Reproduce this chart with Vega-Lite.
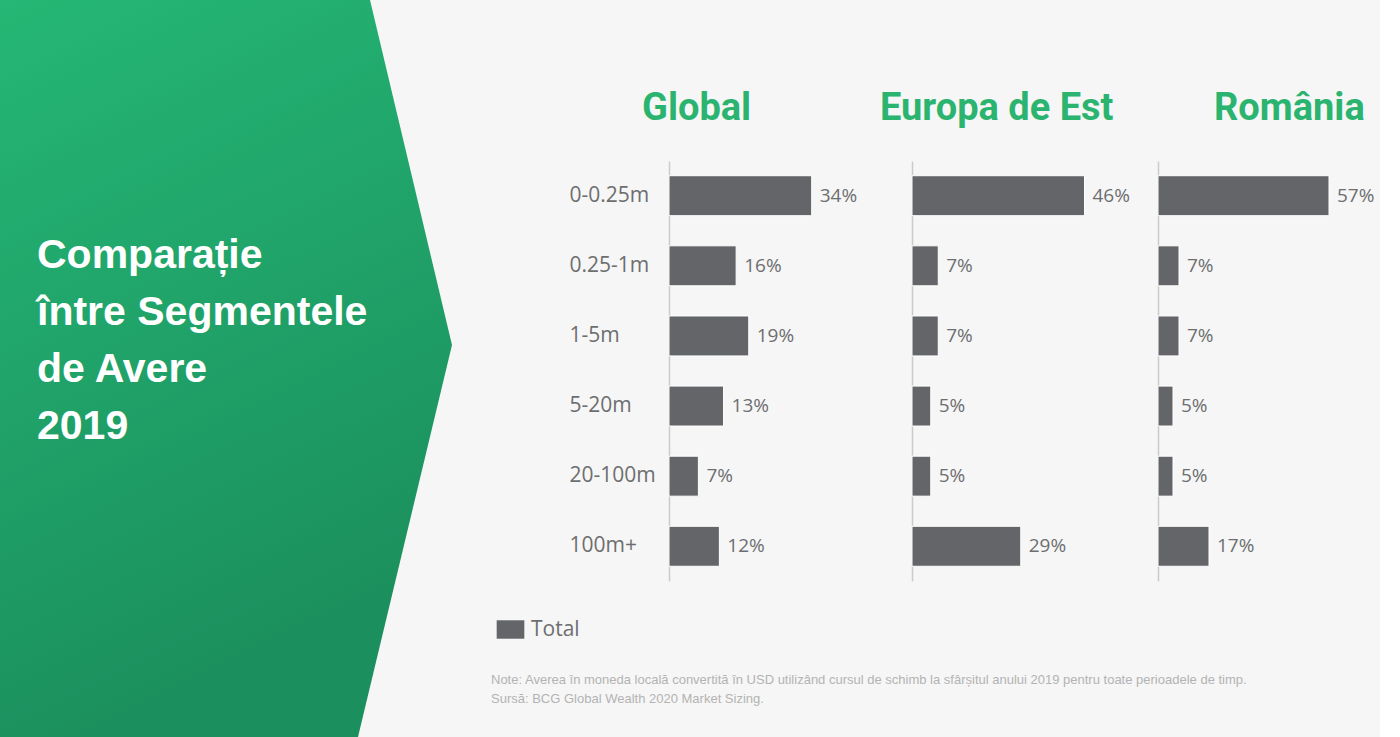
{
  "$schema": "https://vega.github.io/schema/vega-lite/v6.json",
  "background": "#f6f6f6",
  "padding": 0,
  "spacing": 39,
  "datasets": {
    "wealth": [
      {"region": "Global", "segment": "0-0.25m", "share": 0.34},
      {"region": "Global", "segment": "0.25-1m", "share": 0.16},
      {"region": "Global", "segment": "1-5m", "share": 0.19},
      {"region": "Global", "segment": "5-20m", "share": 0.13},
      {"region": "Global", "segment": "20-100m", "share": 0.07},
      {"region": "Global", "segment": "100m+", "share": 0.12},
      {"region": "Europa de Est", "segment": "0-0.25m", "share": 0.46},
      {"region": "Europa de Est", "segment": "0.25-1m", "share": 0.07},
      {"region": "Europa de Est", "segment": "1-5m", "share": 0.07},
      {"region": "Europa de Est", "segment": "5-20m", "share": 0.05},
      {"region": "Europa de Est", "segment": "20-100m", "share": 0.05},
      {"region": "Europa de Est", "segment": "100m+", "share": 0.29},
      {"region": "România", "segment": "0-0.25m", "share": 0.57},
      {"region": "România", "segment": "0.25-1m", "share": 0.07},
      {"region": "România", "segment": "1-5m", "share": 0.07},
      {"region": "România", "segment": "5-20m", "share": 0.05},
      {"region": "România", "segment": "20-100m", "share": 0.05},
      {"region": "România", "segment": "100m+", "share": 0.17}
    ]
  },
  "config": {
    "view": {"stroke": null},
    "axis": {"grid": false},
    "title": {
      "font": "Roboto",
      "fontSize": 38,
      "fontWeight": "bold",
      "color": "#2bb470",
      "anchor": "start",
      "frame": "group",
      "offset": 33
    }
  },
  "hconcat": [
    {
      "width": 452,
      "height": 737,
      "layer": [
        {
          "data": {
            "values": [
              {"py": 0, "px": 370},
              {"py": 345, "px": 452},
              {"py": 737, "px": 358}
            ]
          },
          "mark": {
            "type": "area",
            "orient": "horizontal",
            "fill": {
              "gradient": "linear",
              "x1": 0, "y1": 0, "x2": 0.3, "y2": 1,
              "stops": [
                {"offset": 0, "color": "#25b775"},
                {"offset": 1, "color": "#1b8f5d"}
              ]
            }
          },
          "encoding": {
            "y": {"field": "py", "type": "quantitative", "scale": {"domain": [0, 737], "reverse": true, "nice": false}, "axis": null},
            "x": {"field": "px", "type": "quantitative", "scale": {"domain": [0, 452], "nice": false}, "axis": null}
          }
        },
        {
          "data": {
            "values": [
              {"line": "Comparație", "px": 37, "py": 256},
              {"line": "între Segmentele", "px": 37, "py": 313},
              {"line": "de Avere", "px": 37, "py": 370},
              {"line": "2019", "px": 37, "py": 427}
            ]
          },
          "mark": {
            "type": "text",
            "align": "left",
            "baseline": "middle",
            "font": "Liberation Sans",
            "fontSize": 41,
            "fontWeight": "bold",
            "color": "#ffffff"
          },
          "encoding": {
            "y": {"field": "py", "type": "quantitative"},
            "x": {"field": "px", "type": "quantitative"},
            "text": {"field": "line"}
          }
        }
      ]
    },
    {
      "spacing": 0,
      "title": {
        "text": [
          "Note: Averea în moneda locală convertită în USD utilizând cursul de schimb la sfârșitul anului 2019 pentru toate perioadele de timp.",
          "Sursă: BCG Global Wealth 2020 Market Sizing."
        ],
        "orient": "bottom",
        "anchor": "start",
        "frame": "group",
        "dx": -178,
        "offset": 93,
        "font": "Liberation Sans",
        "fontSize": 13,
        "fontWeight": "normal",
        "color": "#b3b3b3",
        "lineHeight": 19
      },
      "vconcat": [
        {
          "width": 10,
          "height": 90,
          "data": {"values": []},
          "mark": "point"
        },
        {
          "spacing": 0,
          "bounds": "flush",
          "hconcat": [
            {
              "width": 243,
              "height": 420,
              "title": {"text": "Global", "dx": -27},
              "data": {"name": "wealth"},
              "transform": [{"filter": "datum.region === 'Global'"}],
              "encoding": {
                "y": {
                  "field": "segment",
                  "type": "nominal",
                  "sort": null,
                  "scale": {"paddingInner": 0.43, "paddingOuter": 0.21},
                  "axis": {
                    "title": null,
                    "ticks": false,
                    "domainColor": "#cbcbcb",
                    "domainWidth": 1.5,
                    "labelAlign": "left",
                    "labelPadding": 100,
                    "labelFont": "Open Sans",
                    "labelFontSize": 21,
                    "labelColor": "#6d6e70"
                  }
                },
                "x": {
                  "field": "share",
                  "type": "quantitative",
                  "scale": {"domain": [0, 0.579], "nice": false},
                  "axis": null
                }
              },
              "layer": [
                {
                  "mark": {"type": "bar", "stroke": "#ffffff", "strokeWidth": 1},
                  "encoding": {
                    "color": {
                      "datum": "Total",
                      "type": "nominal",
                      "scale": {"range": ["#646568"]},
                      "legend": {
                        "orient": "none",
                        "legendX": 500,
                        "legendY": 619,
                        "title": null,
                        "symbolType": "M-1.5,-1H1.5V1H-1.5Z",
                        "symbolSize": 340,
                        "symbolStrokeWidth": 0,
                        "labelFont": "Open Sans",
                        "labelFontSize": 21,
                        "labelColor": "#6d6e70",
                        "labelOffset": 10
                      }
                    }
                  }
                },
                {
                  "mark": {"type": "text", "align": "left", "dx": 8, "font": "Open Sans", "fontSize": 19, "color": "#6d6e70"},
                  "encoding": {"text": {"field": "share", "format": ".0%"}}
                }
              ]
            },
            {
              "width": 246,
              "height": 420,
              "title": {"text": "Europa de Est", "dx": -32},
              "data": {"name": "wealth"},
              "transform": [{"filter": "datum.region === 'Europa de Est'"}],
              "encoding": {
                "y": {
                  "field": "segment",
                  "type": "nominal",
                  "sort": null,
                  "scale": {"paddingInner": 0.43, "paddingOuter": 0.21},
                  "axis": {"title": null, "ticks": false, "labels": false, "domainColor": "#cbcbcb", "domainWidth": 1.5}
                },
                "x": {
                  "field": "share",
                  "type": "quantitative",
                  "scale": {"domain": [0, 0.656], "nice": false},
                  "axis": null
                }
              },
              "layer": [
                {"mark": {"type": "bar", "color": "#646568", "stroke": "#ffffff", "strokeWidth": 1}},
                {
                  "mark": {"type": "text", "align": "left", "dx": 8, "font": "Open Sans", "fontSize": 19, "color": "#6d6e70"},
                  "encoding": {"text": {"field": "share", "format": ".0%"}}
                }
              ]
            },
            {
              "width": 222,
              "height": 420,
              "title": {"text": "România", "dx": 56},
              "data": {"name": "wealth"},
              "transform": [{"filter": "datum.region === 'România'"}],
              "encoding": {
                "y": {
                  "field": "segment",
                  "type": "nominal",
                  "sort": null,
                  "scale": {"paddingInner": 0.43, "paddingOuter": 0.21},
                  "axis": {"title": null, "ticks": false, "labels": false, "domainColor": "#cbcbcb", "domainWidth": 1.5}
                },
                "x": {
                  "field": "share",
                  "type": "quantitative",
                  "scale": {"domain": [0, 0.74], "nice": false},
                  "axis": null
                }
              },
              "layer": [
                {"mark": {"type": "bar", "color": "#646568", "stroke": "#ffffff", "strokeWidth": 1}},
                {
                  "mark": {"type": "text", "align": "left", "dx": 8, "font": "Open Sans", "fontSize": 19, "color": "#6d6e70"},
                  "encoding": {"text": {"field": "share", "format": ".0%"}}
                }
              ]
            }
          ]
        }
      ]
    }
  ]
}
